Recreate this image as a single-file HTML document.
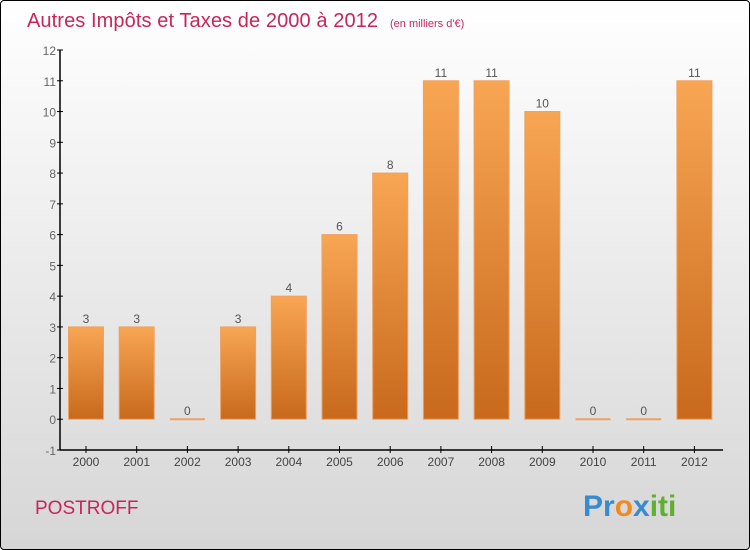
<!DOCTYPE html>
<html><head><meta charset="utf-8"><style>
html,body{margin:0;padding:0}
body{width:750px;height:550px;overflow:hidden;font-family:"Liberation Sans",sans-serif}
#frame{position:absolute;left:0;top:0;width:748px;height:548px;border:1px solid #000;border-radius:4px;background:linear-gradient(#ffffff,#d6d6d6)}
</style></head><body>
<div id="frame"></div>
<svg id="chart" width="750" height="550" style="position:absolute;left:0;top:0">
<defs><linearGradient id="bg" x1="0" y1="0" x2="0" y2="1"><stop offset="0" stop-color="#f8a654"/><stop offset="1" stop-color="#c8691c"/></linearGradient></defs>
<text x="27" y="27" font-size="20" fill="#c8265a" textLength="351">Autres Impôts et Taxes de 2000 à 2012</text>
<text x="390" y="27" font-size="11" fill="#c8265a">(en milliers d'€)</text>
<text x="35" y="514" font-size="19" fill="#c8265a">POSTROFF</text>
<text x="583" y="516" font-size="30" font-weight="bold"><tspan fill="#3a8ad0">Pr</tspan><tspan fill="#f08a20">o</tspan><tspan fill="#3a8ad0">x</tspan><tspan fill="#60b030">iti</tspan></text>
<g id="plot"></g>
</svg>
<script>
const years=["2000","2001","2002","2003","2004","2005","2006","2007","2008","2009","2010","2011","2012"];
const values=[3,3,0,3,4,6,8,11,11,10,0,0,11];
const yTicks=[-1,0,1,2,3,4,5,6,7,8,9,10,11,12];
const NS="http://www.w3.org/2000/svg";
const g=document.getElementById('plot');
const x0=60,x1=723,yTop=50,yBot=450,ymin=-1,ymax=12;
const yS=v=>yBot-(v-ymin)/(ymax-ymin)*(yBot-yTop);
const step=50.7,xS=i=>86+i*step,bw=35;
function mk(t,a){const e=document.createElementNS(NS,t);for(const k in a)e.setAttribute(k,a[k]);g.appendChild(e);return e;}
yTicks.forEach(v=>{
 const l=mk('line',{x1:x0-3,x2:x0+3,y1:yS(v),y2:yS(v),stroke:'#000'});
 
 
 const t=mk('text',{x:x0-4,y:yS(v)+5,'text-anchor':'end','font-size':12,fill:'#666'});t.textContent=v;
 
 
});
values.forEach((v,i)=>{
 const cx=xS(i);
 let r;
 if(v>0){r=mk('rect',{x:cx-bw/2,y:yS(v),width:bw,height:yS(0)-yS(v),fill:'url(#bg)',stroke:'#f0a060','stroke-width':1});}
 else{r=mk('line',{x1:cx-bw/2,x2:cx+bw/2,y1:yS(0),y2:yS(0),stroke:'#f0a060','stroke-width':2});}
 
 
 const t=mk('text',{x:cx,y:yS(v)-4,'text-anchor':'middle','font-size':12,fill:'#555'});t.textContent=v;
 
 
 const tk=mk('line',{x1:cx,x2:cx,y1:yBot-4,y2:yBot+3,stroke:'#000'});
 
 
 const xl=mk('text',{x:cx,y:yBot+16,'text-anchor':'middle','font-size':12,fill:'#444'});xl.textContent=years[i];
 
 
});
const ya=mk('line',{x1:x0,x2:x0,y1:yTop,y2:yBot,stroke:'#000','stroke-width':1.5});


const xa=mk('line',{x1:x0,x2:x1,y1:yBot,y2:yBot,stroke:'#000','stroke-width':1.5});


</script>
</body></html>
